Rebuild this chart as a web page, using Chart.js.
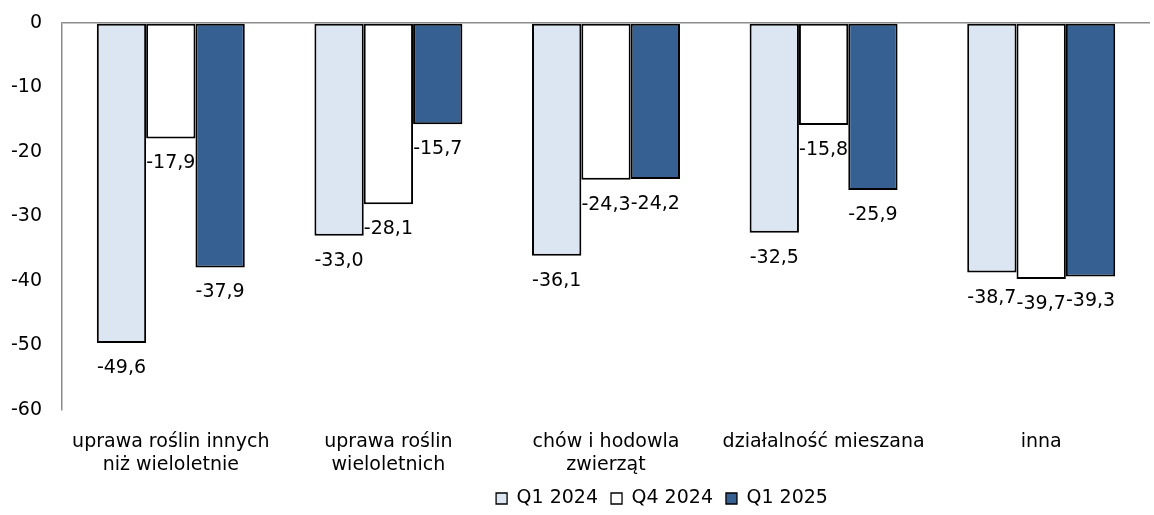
<!DOCTYPE html>
<html>
<head>
<meta charset="utf-8">
<script src="https://cdn.jsdelivr.net/npm/chart.js@4/dist/chart.umd.min.js"></script>
<style>
  html, body { margin: 0; padding: 0; background: #fff; }
  #wrap { width: 1154px; height: 515px; position: relative; }
</style>
</head>
<body>
<div id="wrap"><canvas id="salesChart"></canvas></div>
<script>
// --- DADOS ---
const categories = [
    ['uprawa roślin innych', 'niż wieloletnie'],
    ['uprawa roślin', 'wieloletnich'],
    ['chów i hodowla', 'zwierząt'],
    'działalność mieszana',
    'inna'
];
const seriesNames = ['Q1 2024', 'Q4 2024', 'Q1 2025'];
const q1_2024 = [-49.6, -33.0, -36.1, -32.5, -38.7];
const q4_2024 = [-17.9, -28.1, -24.3, -15.8, -39.7];
const q1_2025 = [-37.9, -15.7, -24.2, -25.9, -39.3];
const yTicks = [0, -10, -20, -30, -40, -50, -60];

const FONT = '"DejaVu Sans", Verdana, sans-serif';
const FS = 19;
const fmt = v => v.toFixed(1).replace('.', ',');

// rótulos por baixo das barras
const valueLabels = {
    id: 'valueLabels',
    afterDatasetsDraw(chart) {
        const ctx = chart.ctx;
        ctx.save();
        ctx.font = FS + 'px ' + FONT;
        ctx.fillStyle = '#000';
        ctx.textAlign = 'center';
        ctx.textBaseline = 'middle';
        chart.data.datasets.forEach((ds, i) => {
            chart.getDatasetMeta(i).data.forEach((bar, j) => {
                ctx.fillText(fmt(ds.data[j]), bar.x, bar.y + 25);
            });
        });
        ctx.restore();
    }
};

// legenda: altura fixa e deslocada para a direita, como no original
const legendTweak = {
    id: 'legendTweak',
    beforeLayout(chart) {
        const lg = chart.legend;
        if (lg && !lg._patched) {
            const fit = lg.fit.bind(lg);
            lg.fit = function () { fit(); this.height = 42; };
            lg._patched = true;
        }
    },
    afterLayout(chart) {
        const lg = chart.legend;
        if (lg) { lg.left += 174; lg.top += 3; lg.bottom += 3; }
    }
};

const ctx = document.getElementById('salesChart').getContext('2d');
new Chart(ctx, {
    type: 'bar',
    data: {
        labels: categories,
        datasets: [
            { label: seriesNames[0], data: q1_2024, backgroundColor: '#DCE6F2' },
            { label: seriesNames[1], data: q4_2024, backgroundColor: '#FFFFFF' },
            { label: seriesNames[2], data: q1_2025, backgroundColor: '#376092' }
        ].map(d => Object.assign(d, { borderColor: '#000', borderWidth: 2, borderSkipped: false }))
    },
    options: {
        responsive: true,
        maintainAspectRatio: false,
        animation: false,
        layout: { padding: { top: 23, right: 4, bottom: 0, left: 0 } },
        datasets: { bar: { categoryPercentage: 0.68, barPercentage: 1 } },
        plugins: {
            tooltip: { enabled: false },
            legend: {
                position: 'bottom',
                labels: {
                    color: '#000',
                    font: { family: FONT, size: FS },
                    boxWidth: 11,
                    boxHeight: 11,
                    padding: 13,
                    generateLabels: chart => chart.data.datasets.map((ds, i) => ({
                        text: ds.label, fillStyle: ds.backgroundColor, strokeStyle: '#000',
                        lineWidth: 1.3, datasetIndex: i, hidden: false, fontColor: '#000'
                    }))
                }
            }
        },
        scales: {
            x: {
                // sem recorte dos rótulos, para poderem descer até perto da legenda
                afterFit: s => { s.height = 63; s._computeLabelArea = () => undefined; },
                grid: { display: false, drawTicks: false },
                border: { display: false },
                ticks: { color: '#000', font: { family: FONT, size: FS, lineHeight: 1.24 }, padding: 20, maxRotation: 0, autoSkip: false }
            },
            y: {
                min: -60, max: 0,
                afterFit: s => { s.width = 62; s.paddingTop = 0; s.paddingBottom = 0; },
                afterBuildTicks: s => { s.ticks = yTicks.map(v => ({ value: v })); },
                grid: {
                    drawTicks: false,
                    color: c => c.tick && c.tick.value === 0 ? '#8c8c8c' : 'rgba(0,0,0,0)',
                    lineWidth: 1.5
                },
                border: { color: '#8c8c8c', width: 1.5 },
                ticks: { color: '#000', font: { family: FONT, size: FS }, padding: 20 }
            }
        }
    },
    plugins: [valueLabels, legendTweak]
});
</script>
</body>
</html>
